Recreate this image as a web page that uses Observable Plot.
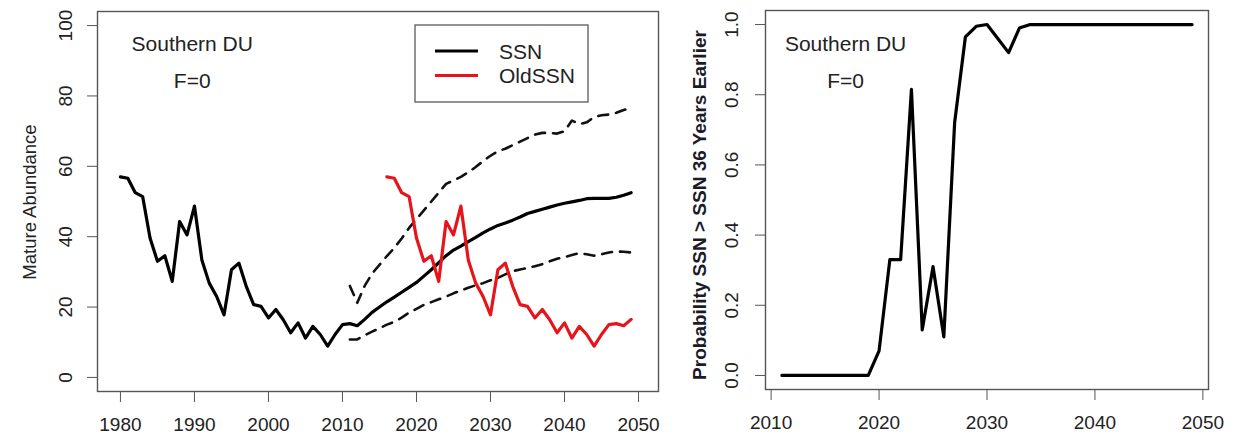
<!DOCTYPE html>
<html>
<head>
<meta charset="utf-8">
<script src="https://cdn.jsdelivr.net/npm/d3@7"></script>
<script src="https://cdn.jsdelivr.net/npm/@observablehq/plot@0.6"></script>
<style>
  body { margin: 0; background: #fff; }
  #wrap { display: flex; width: 1238px; height: 440px; }
</style>
</head>
<body>
<div id="wrap"></div>
<script>
// Mature abundance, SSN series, 1980-2049
const ssnStart = 1980;
const ssn = [
  57.0, 56.6, 52.5, 51.4, 39.6, 33.0, 34.6, 27.3, 44.3, 40.5,
  48.7, 33.4, 26.8, 23.0, 17.8, 30.6, 32.5, 25.9, 20.7, 20.2,
  16.9, 19.3, 16.4, 12.7, 15.5, 11.2, 14.5, 12.2, 8.9, 12.2,
  15.0, 15.3, 14.7, 16.5, 18.5, 20.0, 21.5, 22.8, 24.2, 25.6,
  27.0, 28.8, 30.6, 32.6, 34.6, 36.2, 37.3, 38.6, 39.8, 41.1,
  42.2, 43.2, 43.9, 44.7, 45.6, 46.6, 47.2, 47.8, 48.4, 49.0,
  49.5, 49.9, 50.3, 50.8, 50.9, 50.9, 50.9, 51.2, 51.8, 52.5
];

// OldSSN series, 2016-2049
const oldStart = 2016;
const oldSsn = [
  57.0, 56.6, 52.5, 51.4, 39.6, 33.0, 34.6, 27.3, 44.3, 40.5,
  48.7, 33.4, 26.8, 23.0, 17.8, 30.6, 32.5, 25.9, 20.7, 20.2,
  16.9, 19.3, 16.4, 12.7, 15.5, 11.2, 14.5, 12.2, 8.9, 12.2,
  15.0, 15.3, 14.7, 16.5
];

// Projection interval bounds, 2011-2049
const bandStart = 2011;
const upperBound = [
  26.0, 21.2, 26.0, 29.5, 32.0, 34.5, 36.8, 39.5, 42.5, 45.0,
  47.5, 50.0, 52.5, 55.0, 56.0, 57.0, 58.3, 59.8, 61.5, 63.0,
  64.3, 65.0, 66.0, 67.0, 68.0, 69.0, 69.5, 69.5, 69.3, 70.0,
  73.0, 72.0, 72.5, 74.0, 74.5, 74.7, 75.2, 76.0, 76.6
];
const lowerBound = [
  10.8, 10.8, 12.0, 13.0, 14.0, 15.0, 15.8, 17.0, 18.4, 19.5,
  20.6, 21.4, 22.2, 23.0, 23.9, 24.7, 25.5, 26.2, 26.8, 27.6,
  28.3, 29.3, 30.2, 30.7, 31.1, 31.6, 32.2, 33.0, 33.7, 34.2,
  34.8, 35.3, 35.0, 34.6, 35.0, 35.5, 35.8, 35.7, 35.5
];

// Probability that SSN exceeds SSN 36 years earlier, 2011-2049
const probStart = 2011;
const prob = [
  0, 0, 0, 0, 0, 0, 0, 0, 0, 0.07,
  0.33, 0.33, 0.815, 0.13, 0.31, 0.11, 0.72, 0.965, 0.995, 1.0,
  0.96, 0.92, 0.99, 1.0, 1.0, 1.0, 1.0, 1.0, 1.0, 1.0,
  1.0, 1.0, 1.0, 1.0, 1.0, 1.0, 1.0, 1.0, 1.0
];

// Axis ticks
const xTicksLeft = [1980, 1990, 2000, 2010, 2020, 2030, 2040, 2050];
const yTicksLeft = [0, 20, 40, 60, 80, 100];
const xTicksRight = [2010, 2020, 2030, 2040, 2050];
const yTicksRight = [0, 0.2, 0.4, 0.6, 0.8, 1.0];

// Text
const panelTitle = "Southern DU";
const panelSub = "F=0";
const seriesNames = ["SSN", "OldSSN"];
const seriesColors = ["#000000", "#e8141b"];
const leftYLabel = "Mature Abundance";
const rightYLabel = "Probability SSN > SSN 36 Years Earlier";

const toRows = (start, vals) => vals.map((v, i) => ({year: start + i, value: v}));
const ssnRows = toRows(ssnStart, ssn);
const oldRows = toRows(oldStart, oldSsn);
const upperRows = toRows(bandStart, upperBound);
const lowerRows = toRows(bandStart, lowerBound);
const probRows = toRows(probStart, prob);

const FONT = "'Liberation Sans', Arial, sans-serif";
const baseStyle = {fontFamily: FONT, color: "#222", background: "white", overflow: "visible"};
const TICK_FONT = 19;
const fmtProb = d => d.toFixed(1);
const blank = () => "";

// Base-R style axes: outward ticks, horizontal x labels, y labels parallel to the axis
function rAxes(xTicks, yTicks, yFormat, yLabelDx) {
  return [
    Plot.axisX({ticks: xTicks, tickSize: 11, tickFormat: blank, label: null, stroke: "#555"}),
    Plot.axisY({ticks: yTicks, tickSize: 10, tickFormat: blank, label: null, stroke: "#555"}),
    Plot.text(xTicks, {x: d => d, text: d => String(d), frameAnchor: "bottom", lineAnchor: "top",
      textAnchor: "middle", dy: 26, fontSize: TICK_FONT, fill: "#222"}),
    Plot.text(yTicks, {y: d => d, text: yFormat, frameAnchor: "left", rotate: -90, lineAnchor: "bottom",
      textAnchor: "middle", dx: yLabelDx, fontSize: TICK_FONT, fill: "#222"})
  ];
}

const left = Plot.plot({
  width: 670, height: 440,
  marginLeft: 97, marginRight: 12, marginTop: 11, marginBottom: 49,
  style: baseStyle,
  x: {domain: [1976.9, 2052.7]},
  y: {domain: [-4, 104]},
  marks: [
    Plot.frame({stroke: "#555", strokeWidth: 1.4}),
    ...rAxes(xTicksLeft, yTicksLeft, d => String(d), -26),
    Plot.line(upperRows, {x: "year", y: "value", stroke: "#111", strokeWidth: 2.6, strokeDasharray: "10,8"}),
    Plot.line(lowerRows, {x: "year", y: "value", stroke: "#111", strokeWidth: 2.6, strokeDasharray: "10,8"}),
    Plot.line(ssnRows, {x: "year", y: "value", stroke: seriesColors[0], strokeWidth: 3.2}),
    Plot.line(oldRows, {x: "year", y: "value", stroke: seriesColors[1], strokeWidth: 3.2}),
    Plot.text([panelTitle], {x: 1989.7, y: 94.6, text: d => d, fontSize: 21, fill: "#222"}),
    Plot.text([panelSub], {x: 1989.7, y: 84.1, text: d => d, fontSize: 21, fill: "#222"})
  ]
});

const right = Plot.plot({
  width: 568, height: 440,
  marginLeft: 95, marginRight: 30, marginTop: 10, marginBottom: 51,
  style: baseStyle,
  x: {domain: [2009.48, 2050.52]},
  y: {domain: [-0.04, 1.04]},
  marks: [
    Plot.frame({stroke: "#555", strokeWidth: 1.4}),
    ...rAxes(xTicksRight, yTicksRight, fmtProb, -28),
    Plot.line(probRows, {x: "year", y: "value", stroke: "#000", strokeWidth: 3.2}),
    Plot.text([panelTitle], {x: 2016.9, y: 0.943, text: d => d, fontSize: 21, fill: "#222"}),
    Plot.text([panelSub], {x: 2016.9, y: 0.838, text: d => d, fontSize: 21, fill: "#222"})
  ]
});

// Axis titles
d3.select(left).append("text")
  .attr("transform", "translate(30,202) rotate(-90)")
  .attr("text-anchor", "middle").attr("dy", "0.35em")
  .attr("fill", "#222").style("font-size", "18.5px").style("font-family", FONT)
  .text(leftYLabel);

d3.select(right).append("text")
  .attr("transform", "translate(29,205) rotate(-90)")
  .attr("text-anchor", "middle").attr("dy", "0.35em")
  .attr("fill", "#1a1a2a").style("font-size", "19px").style("font-weight", "bold").style("font-family", FONT)
  .text(rightYLabel);

// Legend box for the abundance panel
const lg = d3.select(left).append("g").attr("font-family", FONT).attr("font-size", 21).attr("text-anchor", "start");
lg.append("rect").attr("x", 415).attr("y", 25).attr("width", 173).attr("height", 77)
  .attr("fill", "white").attr("stroke", "#666").attr("stroke-width", 1.4);
seriesNames.forEach((name, i) => {
  const cy = 51 + i * 24.5;
  lg.append("line").attr("x1", 435).attr("x2", 478).attr("y1", cy).attr("y2", cy)
    .attr("stroke", seriesColors[i]).attr("stroke-width", 3.2);
  lg.append("text").attr("x", 499).attr("y", cy).attr("dy", "0.36em").attr("fill", "#222").text(name);
});

document.getElementById("wrap").append(left, right);
</script>
</body>
</html>
